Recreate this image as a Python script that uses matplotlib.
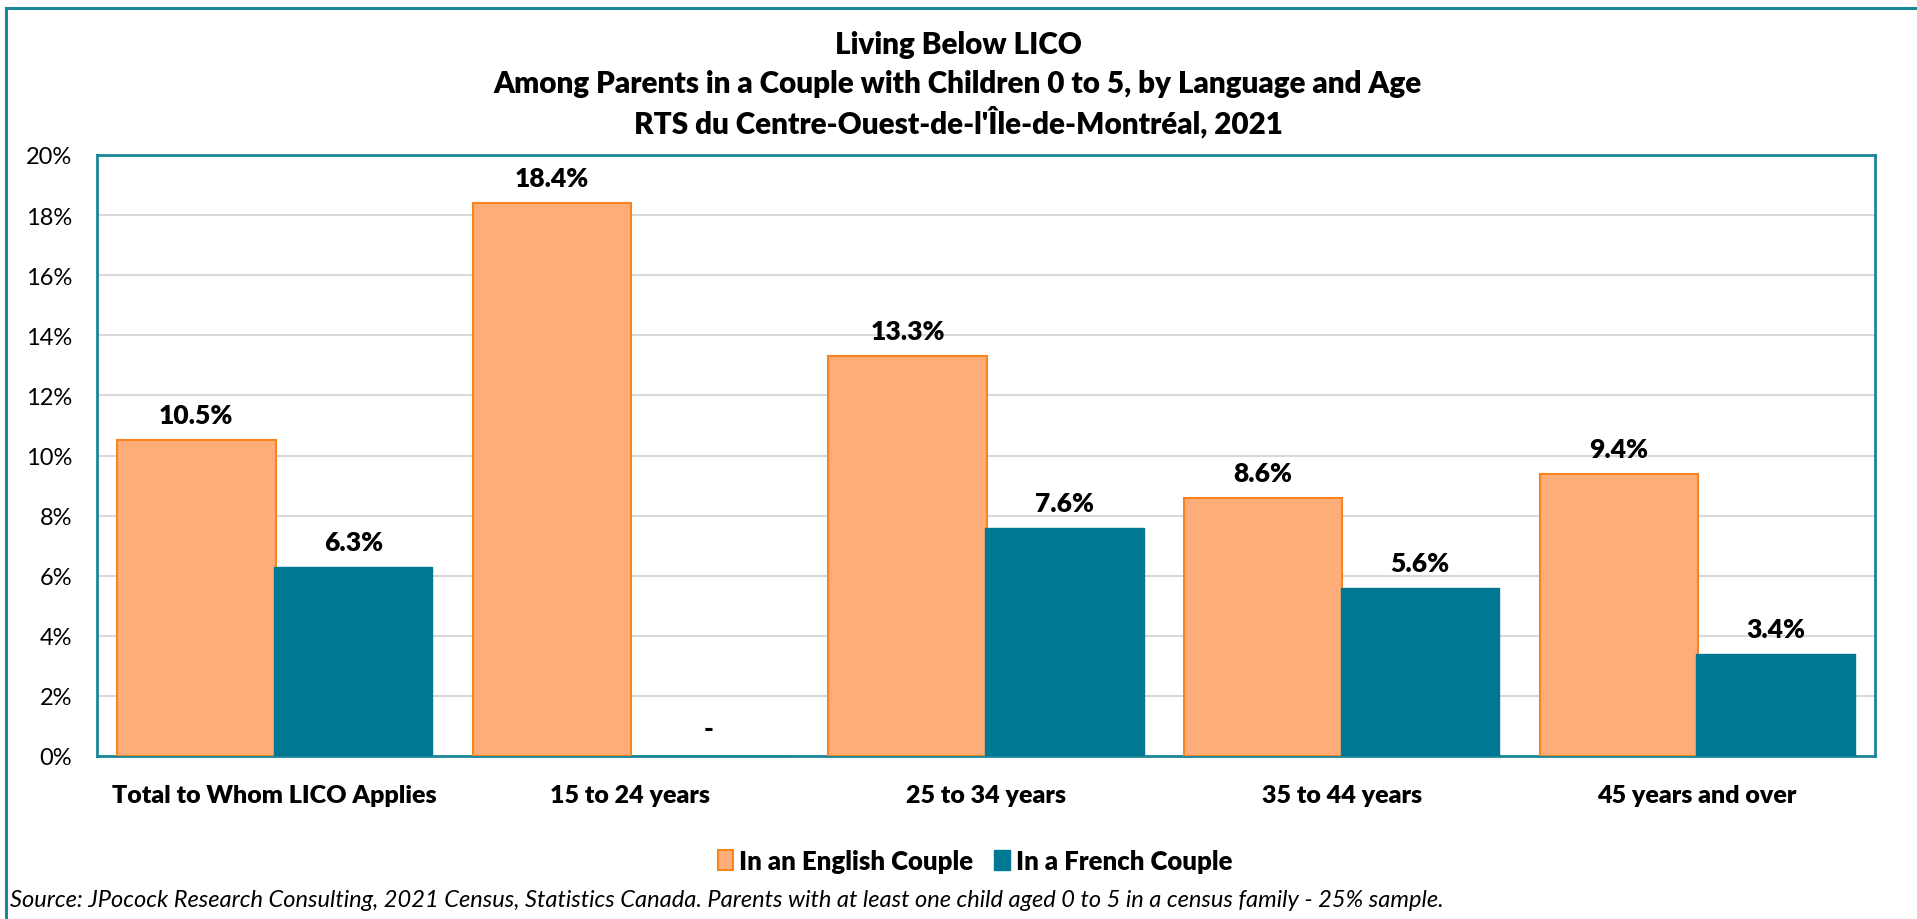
import matplotlib
matplotlib.use("Agg")
import matplotlib.pyplot as plt
from matplotlib.patches import Rectangle, Patch
import numpy as np

categories = ["Total to Whom LICO Applies", "15 to 24 years", "25 to 34 years",
              "35 to 44 years", "45 years and over"]
english = [10.5, 18.4, 13.3, 8.6, 9.4]
french = [6.3, None, 7.6, 5.6, 3.4]
series_names = ["In an English Couple", "In a French Couple"]
yticks = [0, 2, 4, 6, 8, 10, 12, 14, 16, 18, 20]

title_lines = ["Living Below LICO",
               "Among Parents in a Couple with Children 0 to 5, by Language and Age",
               "RTS du Centre-Ouest-de-l'Île-de-Montréal, 2021"]
source = ("Source: JPocock Research Consulting, 2021 Census, Statistics Canada. "
          "Parents with at least one child aged 0 to 5 in a census family - 25% sample.")

ORANGE_FILL = "#FFAD78"
ORANGE_EDGE = "#F7841F"
TEAL = "#007893"
FRAME = "#1B8599"
GRID = "#D9D9D9"
BOLD = "heavy"

plt.rcParams['font.family'] = ['Lato', 'DejaVu Sans']

W, H = 1917, 920
fig = plt.figure(figsize=(W / 100, H / 100), dpi=100)

# outer frame (extends past right/bottom edges)
fig.patches.append(Rectangle((6 / W, -0.1), 1.2, 1 - 9 / H + 0.1, transform=fig.transFigure,
                             fill=False, edgecolor=FRAME, linewidth=2.2, zorder=0))

ax = fig.add_axes([97 / W, 1 - 757 / H, (1875 - 97) / W, (757 - 156) / H])
x = np.arange(len(categories))
bw = 0.445
off = 0.2205
eng_vals = [v if v is not None else 0 for v in english]
fr_vals = [v if v is not None else 0 for v in french]
ax.bar(x - off, eng_vals, width=bw, color=ORANGE_FILL, edgecolor=ORANGE_EDGE,
       linewidth=1.5, zorder=3)
ax.bar(x + off, fr_vals, width=bw, color=TEAL, edgecolor=TEAL, linewidth=1.0, zorder=3)

for xi, v in zip(x - off, english):
    lab = "-" if v is None else f"{v:.1f}%"
    ax.annotate(lab, (xi, v if v is not None else 0), xytext=(0, 18), textcoords="offset points",
                ha="center", va="center", fontsize=19, fontweight=BOLD, color="black")
for xi, v in zip(x + off, french):
    lab = "-" if v is None else f"{v:.1f}%"
    ax.annotate(lab, (xi, v if v is not None else 0), xytext=(0, 18 if v is not None else 20),
                textcoords="offset points",
                ha="center", va="center", fontsize=19, fontweight=BOLD, color="black")

ax.set_xlim(-0.5, len(categories) - 0.5)
ax.set_ylim(0, 20)
ax.set_yticks(yticks)
ax.set_yticklabels([f"{t}%" for t in yticks], fontsize=17)
ax.set_xticks(x)
ax.set_xticklabels(categories, fontsize=18, fontweight=BOLD)
ax.tick_params(axis="both", length=0)
ax.tick_params(axis="y", pad=18)
ax.tick_params(axis="x", pad=20)
ax.yaxis.grid(True, color=GRID, linewidth=1.5, zorder=0)
ax.set_axisbelow(True)
for s in ax.spines.values():
    s.set_color(FRAME)
    s.set_linewidth(2)

# title
ys = [45, 84, 122]
for t, yy in zip(title_lines, ys):
    fig.text(958 / W, 1 - yy / H, t, ha="center", va="center", fontsize=21.3, fontweight=BOLD)

# legend
handles = [Patch(facecolor=ORANGE_FILL, edgecolor=ORANGE_EDGE, linewidth=1.5),
           Patch(facecolor=TEAL, edgecolor=TEAL)]
fig.legend(handles, series_names, loc="center", bbox_to_anchor=(975 / W, 1 - 862 / H),
           ncol=2, frameon=False, prop={"size": 18.5, "weight": BOLD},
           handlelength=0.6, handleheight=0.8, handletextpad=0.25, columnspacing=0.8)

fig.text(10 / W, 1 - 901 / H, source, ha="left", va="center", fontsize=17, style="italic")

fig.savefig("out.png", dpi=100)
